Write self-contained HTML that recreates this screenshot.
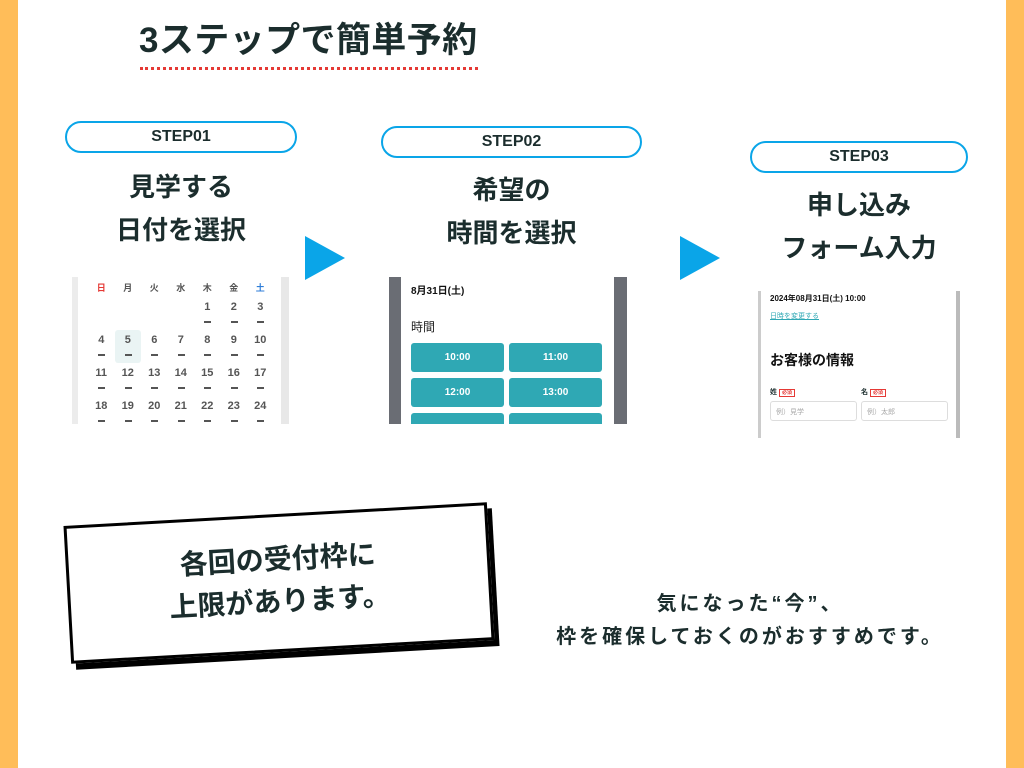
<!DOCTYPE html>
<html><head><meta charset="utf-8"><style>
*{margin:0;padding:0;box-sizing:border-box}
body{width:1024px;height:768px;position:relative;background:#fff;overflow:hidden;font-family:"Liberation Sans","Noto Sans CJK JP",sans-serif;color:#1b2d2d}
.abs{position:absolute}
.bar{position:absolute;top:0;width:18px;height:768px;background:#ffbd59}
.pill{position:absolute;border:2px solid #0aa5e8;border-radius:18px;text-align:center;font-weight:bold;font-size:16px;line-height:28px}
.h{position:absolute;text-align:center;font-weight:bold;font-size:26px;line-height:43px}
.tri{position:absolute;width:0;height:0;border-top:22px solid transparent;border-bottom:22px solid transparent;border-left:40px solid #0aa5e8}
.cal{display:grid;grid-template-columns:repeat(7,26.5px);font-size:11px;font-weight:bold;color:#555;text-align:center}
.cal div{height:33px;padding-top:4px;position:relative}
.cal div.d::after{content:"";position:absolute;left:10px;top:24px;width:7px;height:2px;background:#555}
.tb{background:#2fa8b4;color:#fff;border-radius:3px;font-size:10px;font-weight:bold;text-align:center;line-height:29px;height:29px}
</style></head><body>
<div class="bar" style="left:0"></div><div class="bar" style="left:1006px"></div>
<div class="abs" style="left:139px;top:19px;font-size:35px;font-weight:bold;line-height:44px;letter-spacing:0.4px">3ステップで簡単予約</div>
<div class="abs" style="left:140px;top:67px;width:338px;border-top:3px dotted #e53935"></div>

<div class="pill" style="left:65px;top:121px;width:232px;height:32px">STEP01</div>
<div class="pill" style="left:381px;top:126px;width:261px;height:32px">STEP02</div>
<div class="pill" style="left:750px;top:141px;width:218px;height:32px">STEP03</div>

<div class="h" style="left:65px;top:166px;width:232px">見学する<br>日付を選択</div>
<div class="h" style="left:381px;top:169px;width:261px">希望の<br>時間を選択</div>
<div class="h" style="left:750px;top:184px;width:218px">申し込み<br>フォーム入力</div>

<div class="tri" style="left:305px;top:236px"></div>
<div class="tri" style="left:680px;top:236px"></div>

<!-- calendar -->
<div class="abs" style="left:72px;top:277px;width:217px;height:147px;background:#fff;overflow:hidden;border-left:6px solid #ececec;border-right:8px solid #e8e8e8">
<div class="cal" style="margin-left:10px">
<div style="height:20px;color:#e53935;font-size:9px">日</div><div style="height:20px;font-size:9px">月</div><div style="height:20px;font-size:9px">火</div><div style="height:20px;font-size:9px">水</div><div style="height:20px;font-size:9px">木</div><div style="height:20px;font-size:9px">金</div><div style="height:20px;color:#2f7ed8;font-size:9px">土</div>
<div></div><div></div><div></div><div></div><div class="d">1</div><div class="d">2</div><div class="d">3</div>
<div class="d">4</div><div class="d" style="background:#eaf4f4;border-radius:3px">5</div><div class="d">6</div><div class="d">7</div><div class="d">8</div><div class="d">9</div><div class="d">10</div>
<div class="d">11</div><div class="d">12</div><div class="d">13</div><div class="d">14</div><div class="d">15</div><div class="d">16</div><div class="d">17</div>
<div class="d">18</div><div class="d">19</div><div class="d">20</div><div class="d">21</div><div class="d">22</div><div class="d">23</div><div class="d">24</div>
</div></div>

<!-- time -->
<div class="abs" style="left:389px;top:277px;width:238px;height:147px;background:#fff;border-left:12px solid #6a6d74;border-right:13px solid #6a6d74;overflow:hidden">
<div class="abs" style="left:10px;top:5px;font-size:10px;font-weight:bold;color:#111">8月31日(土)</div>
<div class="abs" style="left:10px;top:41px;font-size:12px;color:#222">時間</div>
<div class="abs" style="left:10px;top:66px;width:193px;display:grid;grid-template-columns:93px 93px;gap:6px 5px">
<div class="tb">10:00</div><div class="tb">11:00</div><div class="tb">12:00</div><div class="tb">13:00</div><div class="tb"></div><div class="tb"></div></div>
</div>

<!-- form -->
<div class="abs" style="left:758px;top:291px;width:202px;height:147px;background:#fff;border-left:3px solid #ccc;border-right:4px solid #bbb;overflow:hidden">
<div class="abs" style="left:9px;top:2px;font-size:8px;font-weight:bold;color:#111">2024年08月31日(土) 10:00</div>
<div class="abs" style="left:9px;top:20px;font-size:7px;color:#2fa8b4;text-decoration:underline">日時を変更する</div>
<div class="abs" style="left:9px;top:59px;font-size:14px;font-weight:bold;color:#111">お客様の情報</div>
<div class="abs" style="left:9px;top:96px;font-size:7px;font-weight:bold">姓 <span style="color:#e53935;border:1px solid #e53935;font-size:5px;padding:0 2px">必須</span></div>
<div class="abs" style="left:100px;top:96px;font-size:7px;font-weight:bold">名 <span style="color:#e53935;border:1px solid #e53935;font-size:5px;padding:0 2px">必須</span></div>
<div class="abs" style="left:9px;top:110px;width:87px;height:20px;border:1px solid #ddd;border-radius:3px;font-size:7px;color:#aaa;padding:5px 5px">例）見学</div>
<div class="abs" style="left:100px;top:110px;width:87px;height:20px;border:1px solid #ddd;border-radius:3px;font-size:7px;color:#aaa;padding:5px 5px">例）太郎</div>
</div>

<!-- card -->
<div class="abs" style="left:72px;top:520px;width:424px;height:138px;background:#000;transform:rotate(-3.2deg);transform-origin:center"></div>
<div class="abs" style="left:67px;top:514px;width:424px;height:138px;background:#fff;border:3px solid #000;transform:rotate(-3.2deg);transform-origin:center;text-align:center;font-weight:bold;font-size:28px;line-height:42px;padding-top:22px">各回の受付枠に<br>上限があります。</div>

<div class="abs" style="left:520px;top:588px;width:460px;text-align:center;font-size:20px;font-weight:bold;line-height:33px;letter-spacing:3px">気になった“今”、<br>枠を確保しておくのがおすすめです。</div>
</body></html>
